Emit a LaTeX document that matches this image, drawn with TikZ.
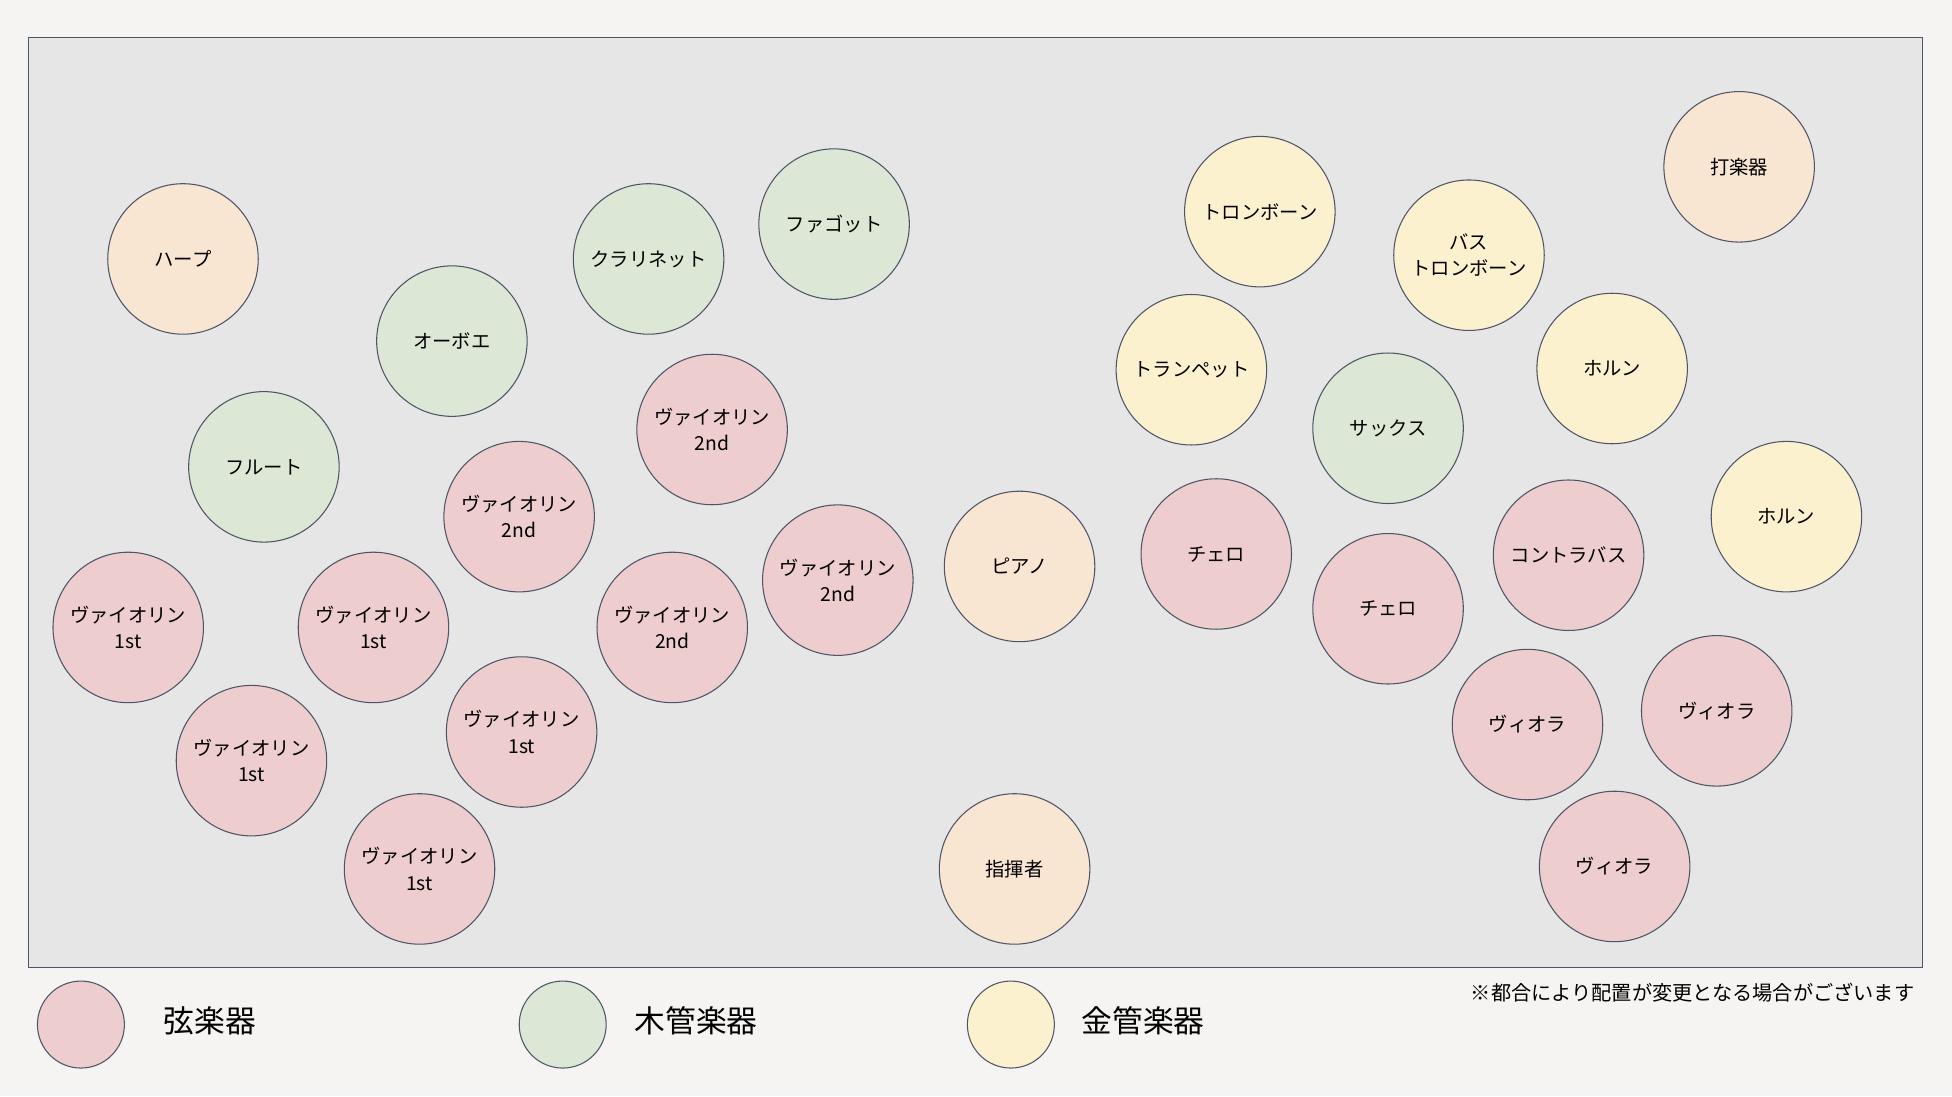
\documentclass[tikz,border=0pt]{standalone}
\usepackage{fontspec}
\newfontfamily\jpfont{Noto Sans CJK JP}
\usetikzlibrary{positioning}
\definecolor{strcol}{HTML}{EDCDCD}
\definecolor{woodcol}{HTML}{DCE8D5}
\definecolor{brasscol}{HTML}{FCF1CF}
\definecolor{othercol}{HTML}{F8E5D2}
\definecolor{stagecol}{HTML}{E6E6E6}
\definecolor{papercol}{HTML}{F5F4F2}
\definecolor{edgecol}{HTML}{4D5566}
\tikzset{
  seat/.style={circle,draw=edgecol,line width=0.6pt,minimum size=3.01cm,inner sep=0pt,align=center,font=\jpfont\fontsize{11}{15}\selectfont},
  strseat/.style={seat,fill=strcol},
  woodseat/.style={seat,fill=woodcol},
  brassseat/.style={seat,fill=brasscol},
  otherseat/.style={seat,fill=othercol},
  keydot/.style={circle,draw=edgecol,line width=0.6pt,minimum size=1.74cm,inner sep=0pt},
  keytext/.style={inner sep=0pt,font=\jpfont\fontsize{17.5}{20}\selectfont}
}
\begin{document}
\begin{tikzpicture}[x=0.0249cm,y=-0.0249cm]
\fill[papercol] (0,0) rectangle (1568,880.4);
\draw[edgecol,fill=stagecol,line width=0.6pt] (23,30) rectangle (1544,777);

\node[otherseat] (harp) at (147,208) {ハープ};
\node[woodseat] (oboe) at (363,274) {オーボエ};
\node[woodseat] (clar) at (521,208) {クラリネット};
\node[woodseat] (fag) at (670,180) {ファゴット};
\node[woodseat] (flute) at (212,375) {フルート};

\node[strseat] (vnb1) at (572,345) {ヴァイオリン\\2nd};
\node[strseat] (vnb2) at (417,415) {ヴァイオリン\\2nd};
\node[strseat] (vnb3) at (673,466) {ヴァイオリン\\2nd};
\node[strseat] (vnb4) at (540,504) {ヴァイオリン\\2nd};
\node[strseat] (vna1) at (103,504) {ヴァイオリン\\1st};
\node[strseat] (vna2) at (300,504) {ヴァイオリン\\1st};
\node[strseat] (vna3) at (202,611) {ヴァイオリン\\1st};
\node[strseat] (vna4) at (419,588) {ヴァイオリン\\1st};
\node[strseat] (vna5) at (337,698) {ヴァイオリン\\1st};

\node[otherseat] (piano) at (819,455) {ピアノ};
\node[otherseat] (cond) at (815,698) {指揮者};

\node[brassseat] (tbn) at (1012,170) {トロンボーン};
\node[brassseat] (tpt) at (957,297) {トランペット};
\node[brassseat] (btbn) at (1180,205) {バス\\トロンボーン};
\node[otherseat] (perc) at (1397,134) {打楽器};
\node[brassseat] (hrn1) at (1295,296) {ホルン};
\node[brassseat] (hrn2) at (1435,415) {ホルン};
\node[woodseat] (sax) at (1115,344) {サックス};

\node[strseat] (vc1) at (977,445) {チェロ};
\node[strseat] (vc2) at (1115,489) {チェロ};
\node[strseat] (cb) at (1260,446) {コントラバス};
\node[strseat] (va1) at (1227,582) {ヴィオラ};
\node[strseat] (va2) at (1379,571) {ヴィオラ};
\node[strseat] (va3) at (1297,696) {ヴィオラ};

\node[keydot,fill=strcol] (keystr) at (65,823) {};
\node[keytext,right=0.77cm of keystr,yshift=2pt] (keystrtxt) {弦楽器};
\node[keydot,fill=woodcol] (keywood) at (452,823) {};
\node[keytext,right=0.55cm of keywood,yshift=2pt] (keywoodtxt) {木管楽器};
\node[keydot,fill=brasscol] (keybrass) at (812,823) {};
\node[keytext,right=0.53cm of keybrass,yshift=2pt] (keybrasstxt) {金管楽器};

\node[anchor=east,inner sep=0pt,font=\jpfont\fontsize{11.5}{14}\selectfont] (note) at (1538,797) {※都合により配置が変更となる場合がございます};
\end{tikzpicture}
\end{document}
